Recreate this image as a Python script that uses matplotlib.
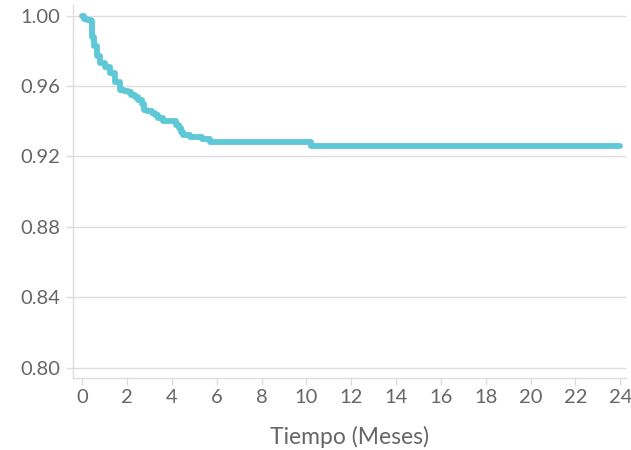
import numpy as np
import matplotlib
matplotlib.use("Agg")
import matplotlib.pyplot as plt

# ----------------------------
# DATA
# ----------------------------
tiempo = [0.0, 0.06, 0.2, 0.4, 0.46, 0.55, 0.66, 0.8, 1.03, 1.25, 1.45, 1.7,
          1.85, 2.06, 2.2, 2.36, 2.5, 2.66, 2.75, 2.9, 3.11, 3.25, 3.4, 3.62,
          4.08, 4.2, 4.3, 4.4, 4.5, 4.8, 5.33, 5.7, 10.2, 24.0]
supervivencia = [1.000, 0.998, 0.9973, 0.9968, 0.988, 0.9825, 0.977, 0.973,
                 0.971, 0.9675, 0.962, 0.958, 0.957, 0.9565, 0.955, 0.954,
                 0.952, 0.950, 0.9466, 0.946, 0.9447, 0.9435, 0.942, 0.940,
                 0.940, 0.938, 0.936, 0.934, 0.932, 0.931, 0.930, 0.928,
                 0.926, 0.926]
y_ticks = [0.80, 0.84, 0.88, 0.92, 0.96, 1.00]
x_ticks = list(range(0, 25, 2))

COLOR = "#5EC8D6"
GRAY = "#666666"
GRID = "#DDDDDD"

plt.rcParams["font.family"] = ["Lato", "DejaVu Sans"]

fig = plt.figure(figsize=(6.31, 4.5), dpi=100)
ax = fig.add_axes([0.116, 0.16, 0.876, 0.829])

ax.step(tiempo, supervivencia, where="post", color=COLOR, linewidth=4.2,
        solid_capstyle="round", solid_joinstyle="round", zorder=3)

ax.set_xlim(-0.4, 24.25)
ax.set_ylim(0.7943, 1.006)
ax.set_xticks(x_ticks)
ax.set_yticks(y_ticks)
ax.set_yticklabels([f"{v:.2f}" for v in y_ticks])

ax.grid(axis="y", color=GRID, linewidth=1)
ax.set_axisbelow(True)

for s in ["top", "right"]:
    ax.spines[s].set_visible(False)
for s in ["left", "bottom"]:
    ax.spines[s].set_color(GRID)
    ax.spines[s].set_linewidth(1)

ax.tick_params(axis="both", colors=GRID, labelcolor=GRAY, labelsize=14.5,
               length=5, width=1)
ax.tick_params(axis="y", pad=4)
ax.tick_params(axis="x", pad=3)

ax.set_xlabel("Tiempo (Meses)", fontsize=16.5, color=GRAY, labelpad=14)

fig.savefig("out.png", dpi=100)
